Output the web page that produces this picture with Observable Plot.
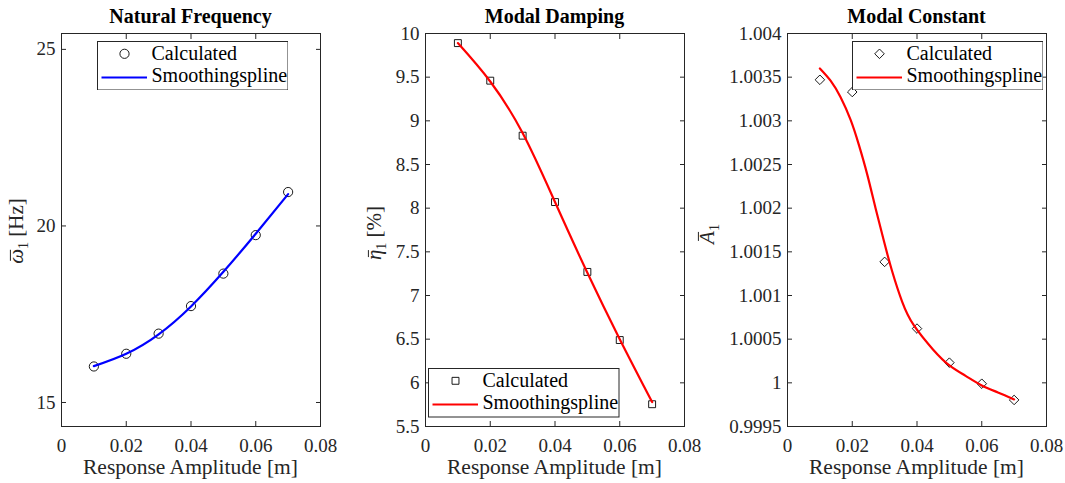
<!DOCTYPE html>
<html>
<head>
<meta charset="utf-8">
<script src="https://cdn.jsdelivr.net/npm/d3@7"></script>
<script src="https://cdn.jsdelivr.net/npm/@observablehq/plot@0.6"></script>
<style>
  body { margin: 0; background: #fff; }
  #fig { position: relative; width: 1065px; height: 483px; overflow: hidden;
         font-family: "Liberation Serif", "Times New Roman", serif; color: #262626; }
  .panel { position: absolute; top: 0; }
  .title { position: absolute; font-weight: bold; font-size: 20px; color: #000;
           white-space: nowrap; transform: translateX(-50%); line-height: 20px; }
  .xlabel { position: absolute; font-size: 21.5px; white-space: nowrap;
            transform: translateX(-50%); line-height: 21.5px; }
  .ylabel { position: absolute; font-size: 21px; white-space: nowrap; line-height: 21px;
            transform: translate(-50%, -50%) rotate(-90deg); }
  .ylabel .ov { position: relative; font-style: italic; }
  .ylabel .ov::before { content: ""; position: absolute; left: 0.12em; right: 0.02em;
                        border-top: 1.1px solid currentColor; }
  .ylabel .ov.low::before { top: 0.30em; }
  .ylabel .ov.cap::before { top: 0.12em; }
  .ylabel sub { font-size: 14px; }
  .legend { position: absolute; }
</style>
</head>
<body>
<div id="fig"></div>
<script>
// Response amplitude [m] of the calculated points
const amplitude = [0.01, 0.02, 0.03, 0.04, 0.05, 0.06, 0.07];

// Natural frequency [Hz]
const freqCalc = [16.02, 16.38, 16.95, 17.73, 18.65, 19.74, 20.96];
const freqSplineX = [0.01, 0.02, 0.03, 0.04, 0.05, 0.06, 0.07];
const freqSplineY = [16.03, 16.38, 16.93, 17.72, 18.70, 19.78, 20.90];

// Modal damping [%]
const dampCalc = [9.89, 9.46, 8.83, 8.07, 7.27, 6.49, 5.755];
const dampSplineX = [0.01, 0.02, 0.03, 0.04, 0.05, 0.06, 0.07];
const dampSplineY = [9.89, 9.45, 8.86, 8.07, 7.26, 6.50, 5.78];

// Modal constant
const constCalc = [1.00347, 1.00333, 1.001385, 1.000621, 1.000231, 0.99999, 0.999804];
const constSplineX = [0.01, 0.0133, 0.0164, 0.0195, 0.022, 0.0246, 0.0272, 0.0298, 0.0323,
                      0.0354, 0.039, 0.045, 0.05, 0.055, 0.06, 0.065, 0.07];
const constSplineY = [1.0036, 1.00346, 1.00327, 1.00301, 1.00273, 1.00239, 1.002, 1.00162, 1.00128,
                      1.00093, 1.00066, 1.00038, 1.0002, 1.00008, 0.99997, 0.99989, 0.99981];

// Tick values and labels
const xTicks = [0, 0.02, 0.04, 0.06, 0.08];
const xTickLabels = ["0", "0.02", "0.04", "0.06", "0.08"];
const freqTicks = [15, 20, 25];
const freqTickLabels = ["15", "20", "25"];
const dampTicks = [5.5, 6, 6.5, 7, 7.5, 8, 8.5, 9, 9.5, 10];
const dampTickLabels = ["5.5", "6", "6.5", "7", "7.5", "8", "8.5", "9", "9.5", "10"];
const constTicks = [0.9995, 1, 1.0005, 1.001, 1.0015, 1.002, 1.0025, 1.003, 1.0035, 1.004];
const constTickLabels = ["0.9995", "1", "1.0005", "1.001", "1.0015", "1.002", "1.0025", "1.003", "1.0035", "1.004"];

const seriesNames = ["Calculated", "Smoothingspline"];
const xLabel = "Response Amplitude [m]";

const fig = document.getElementById("fig");
const axisColor = "#262626";

function panel(cfg) {
  const pts = amplitude.map((x, i) => ({x, y: cfg.calc[i]}));
  const spline = cfg.splineX.map((x, i) => ({x, y: cfg.splineY[i]}));
  const fmt = (ticks, labels) => d => labels[ticks.indexOf(d)];
  const chart = Plot.plot({
    width: 355,
    height: 483,
    marginLeft: cfg.marginLeft,
    marginRight: 355 - cfg.marginLeft - 259,
    marginTop: 33,
    marginBottom: 57,
    x: {domain: [0, 0.08]},
    y: {domain: cfg.yDomain},
    style: {fontFamily: "'Liberation Serif', 'Times New Roman', serif", fontSize: "19px",
            color: axisColor, background: "transparent", overflow: "visible"},
    marks: [
      Plot.axisX(xTicks, {anchor: "bottom", tickSize: -5, tickPadding: 16.5, label: null,
                          tickFormat: fmt(xTicks, xTickLabels), stroke: axisColor}),
      Plot.axisX(xTicks, {anchor: "top", tickSize: -5, label: null,
                          tickFormat: () => "", stroke: axisColor}),
      Plot.axisY(cfg.yTicks, {anchor: "left", tickSize: -5, tickPadding: 11, label: null,
                              tickFormat: fmt(cfg.yTicks, cfg.yTickLabels), stroke: axisColor}),
      Plot.axisY(cfg.yTicks, {anchor: "right", tickSize: -5, label: null,
                              tickFormat: () => "", stroke: axisColor}),
      Plot.dot(pts, {x: "x", y: "y", symbol: cfg.symbol, r: cfg.r, fill: "none",
                     stroke: "#000", strokeWidth: 0.9}),
      Plot.line(spline, {x: "x", y: "y", stroke: cfg.color, strokeWidth: 2.2,
                         curve: cfg.curve}),
      Plot.frame({stroke: axisColor, strokeWidth: 1})
    ]
  });
  chart.classList.add("panel");
  chart.style.left = cfg.left + "px";
  fig.appendChild(chart);

  const frameCx = cfg.left + cfg.marginLeft + 259 / 2;

  const t = document.createElement("div");
  t.className = "title";
  t.textContent = cfg.title;
  t.style.left = frameCx + "px";
  t.style.top = "6px";
  fig.appendChild(t);

  const xl = document.createElement("div");
  xl.className = "xlabel";
  xl.textContent = xLabel;
  xl.style.left = frameCx + "px";
  xl.style.top = "457px";
  fig.appendChild(xl);

  const yl = document.createElement("div");
  yl.className = "ylabel";
  yl.innerHTML = cfg.yLabelHtml;
  yl.style.left = cfg.yLabelPos[0] + "px";
  yl.style.top = cfg.yLabelPos[1] + "px";
  fig.appendChild(yl);

  // legend box
  const lw = 191.5, lh = 49.5;
  const lg = d3.select(fig).append("svg")
    .attr("class", "legend")
    .attr("width", lw).attr("height", lh)
    .style("left", cfg.legendPos[0] + "px")
    .style("top", cfg.legendPos[1] + "px")
    .style("font-family", "'Liberation Serif', 'Times New Roman', serif")
    .style("font-size", "20px");
  lg.append("rect").attr("x", 0.5).attr("y", 0.5).attr("width", lw - 1).attr("height", lh - 1)
    .attr("fill", "#fff").attr("stroke", axisColor).attr("stroke-width", 1);
  const symType = {circle: d3.symbolCircle, square: d3.symbolSquare, diamond2: d3.symbolDiamond2}[cfg.symbol];
  lg.append("path")
    .attr("d", d3.symbol(symType, Math.PI * cfg.r * cfg.r)())
    .attr("transform", "translate(27.5,12.8)")
    .attr("fill", "none").attr("stroke", "#000").attr("stroke-width", 0.9);
  lg.append("line").attr("x1", 4.5).attr("x2", 50).attr("y1", 36.5).attr("y2", 36.5)
    .attr("stroke", cfg.color).attr("stroke-width", 2.2);
  lg.append("text").attr("x", 54.5).attr("y", 18.8).attr("fill", "#000").text(seriesNames[0]);
  lg.append("text").attr("x", 54.5).attr("y", 41.2).attr("fill", "#000").text(seriesNames[1]);
}

panel({
  left: 0, marginLeft: 61, title: "Natural Frequency",
  calc: freqCalc, splineX: freqSplineX, splineY: freqSplineY, curve: "natural",
  yDomain: [14.32, 25.45], yTicks: freqTicks, yTickLabels: freqTickLabels,
  symbol: "circle", r: 4.6, color: "#0000ff",
  yLabelHtml: '<span class="ov low">ω</span><sub>1</sub> [Hz]', yLabelPos: [20, 231],
  legendPos: [96.7, 40.7]
});
panel({
  left: 355, marginLeft: 70, title: "Modal Damping",
  calc: dampCalc, splineX: dampSplineX, splineY: dampSplineY, curve: "natural",
  yDomain: [5.5, 10], yTicks: dampTicks, yTickLabels: dampTickLabels,
  symbol: "square", r: 3.9, color: "#ff0000",
  yLabelHtml: '<span class="ov low">η</span><sub>1</sub> [%]', yLabelPos: [378, 233],
  legendPos: [428.3, 368.3]
});
panel({
  left: 710, marginLeft: 77, title: "Modal Constant",
  calc: constCalc, splineX: constSplineX, splineY: constSplineY, curve: "natural",
  yDomain: [0.9995, 1.004], yTicks: constTicks, yTickLabels: constTickLabels,
  symbol: "diamond2", r: 4.3, color: "#ff0000",
  yLabelHtml: '<span class="ov cap">A</span><sub>1</sub>', yLabelPos: [711, 234],
  legendPos: [851.7, 40.7]
});
</script>
</body>
</html>
